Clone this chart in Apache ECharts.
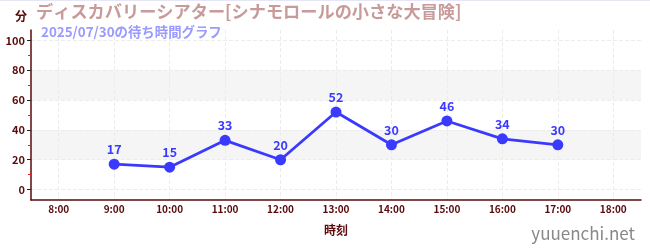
<!DOCTYPE html>
<html><head><meta charset="utf-8">
<script src="https://cdn.jsdelivr.net/npm/echarts@6/dist/echarts.min.js"></script>
<style>html,body{margin:0;padding:0;background:#fff}#c{width:650px;height:250px}</style>
</head><body><div id="c"></div>
<script>
const titleText = 'ディスカバリーシアター[シナモロールの小さな大冒険]';
const subtitleText = '2025/07/30の待ち時間グラフ';
const categories = ['8:00','9:00','10:00','11:00','12:00','13:00','14:00','15:00','16:00','17:00','18:00'];
const waitTimes = [null,17,15,33,20,52,30,46,34,30,null];
const yTicks = [0,20,40,60,80,100];
const yMinorTicks = [10,30,50,70,90];
const yName = '分';
const xName = '時刻';
const watermark = 'yuuenchi.net';

const axisColor = '#5a0a0a';
const font = '"Noto Sans CJK JP", "Noto Sans", sans-serif';
const chart = echarts.init(document.getElementById('c'));
chart.setOption({
  animation:false,
  textStyle:{fontFamily:font},
  graphic:[{type:'rect',left:0,top:0,shape:{width:650,height:1},style:{fill:'#e6e6f6'},silent:true}],
  title:[
    {text:titleText, left:31, top:-2, textStyle:{fontFamily:font,fontSize:17.2,fontWeight:'bold',color:'#c99a9a'}},
    {text:subtitleText, left:36, top:20, textStyle:{fontFamily:font,fontSize:13.4,fontWeight:'bold',color:'#9a9aff'}},
    {text:watermark, right:10, bottom:3, textStyle:{fontFamily:font,fontSize:17,fontWeight:'normal',color:'#888'}}
  ],
  grid:{left:31,right:9,top:30,bottom:50},
  xAxis:{
    type:'category', data:categories, boundaryGap:true,
    name:xName, nameLocation:'middle', nameGap:24,
    nameTextStyle:{color:axisColor,fontSize:12,fontWeight:'bold',fontFamily:font},
    axisLine:{onZero:false,lineStyle:{color:axisColor,width:1.5}},
    axisTick:{alignWithLabel:true,length:4,lineStyle:{color:axisColor}},
    axisLabel:{color:axisColor,fontSize:10,fontWeight:'bold',margin:4,fontFamily:font},
    splitLine:{show:true,alignWithLabel:true,lineStyle:{color:'#ececec',type:'dashed'}}
  },
  yAxis:[{
    type:'value', min:-7, max:107, position:'left',
    name:yName, nameLocation:'end', nameGap:8,
    nameTextStyle:{color:axisColor,fontSize:12,fontWeight:'bold',align:'right',padding:[0,4,0,0]},
    axisLine:{show:true,lineStyle:{color:axisColor,width:1.5}},
    axisTick:{show:true,length:4,customValues:yTicks,lineStyle:{color:'#222'}},
    axisLabel:{customValues:yTicks,color:axisColor,fontSize:11,fontWeight:'bold',margin:6},
    splitLine:{show:true,lineStyle:{color:'#ececec',type:'dashed'}},
    splitArea:{show:true,areaStyle:{color:['rgba(255,255,255,0)','#f5f5f5']}}
  },{
    type:'value', min:-7, max:107, position:'left', offset:0,
    axisLine:{show:false},
    axisTick:{show:true,length:3,customValues:yMinorTicks,lineStyle:{color:'#e02020'}},
    axisLabel:{show:false},
    splitLine:{show:false}
  }],
  series:[{
    type:'line', data:waitTimes, yAxisIndex:0,
    symbol:'circle', symbolSize:11,
    lineStyle:{color:'#3a3aff',width:2.8},
    itemStyle:{color:'#3a3aff'},
    label:{show:true,position:'top',distance:3,color:'#3a3aff',fontSize:12.5,fontWeight:'bold'}
  }]
});
</script></body></html>
